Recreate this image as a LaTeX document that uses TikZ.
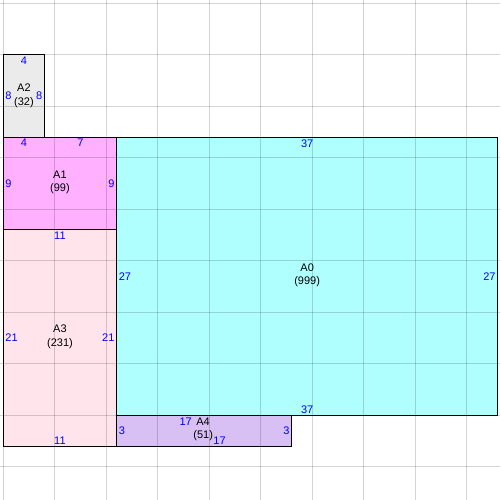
\documentclass[tikz,border=0pt]{standalone}
\usepackage{fontspec}
\setmainfont{Liberation Sans}
\definecolor{cellA0}{RGB}{176,255,255}
\definecolor{cellA1}{RGB}{255,176,255}
\definecolor{cellA2}{RGB}{235,235,235}
\definecolor{cellA3}{RGB}{255,228,236}
\definecolor{cellA4}{RGB}{216,192,245}
\begin{document}
\begin{tikzpicture}[x=10.3pt, y={(0pt,-10.3pt)},
    blk/.style={draw=black, line width=0.9pt},
    gridline/.style={draw=black, opacity=0.17, line width=1pt},
    len/.style={text=blue, inner sep=2pt, font=\fontsize{11}{12}\selectfont},
    tag/.style={align=center, inner sep=0pt, font=\fontsize{11}{13.5}\selectfont}]
    \useasboundingbox (-0.32,-0.32) rectangle (48.22,48.22);

    % Blocks
    \draw[blk, fill=cellA2] (0,5) rectangle (4,13);
    \draw[blk, fill=cellA1] (0,13) rectangle (11,22);
    \draw[blk, fill=cellA3] (0,22) rectangle (11,43);
    \draw[blk, fill=cellA0] (11,13) rectangle (48,40);
    \draw[blk, fill=cellA4] (11,40) rectangle (28,43);

    % Grid (every 5 units)
    \foreach \g in {0,5,...,45} {
        \draw[gridline] (\g,-0.32) -- (\g,48.22);
        \draw[gridline] (-0.32,\g) -- (48.22,\g);
    }

    % A2
    \node[tag] (a2name) at (2,9) {A2\\(32)};
    \node[len, anchor=north] (a2top) at (2,5) {4};
    \node[len, anchor=west] (a2left) at (0,9) {8};
    \node[len, anchor=east] (a2right) at (4,9) {8};

    % A1
    \node[tag] (a1name) at (5.5,17.4) {A1\\(99)};
    \node[len, anchor=north] (a1topa) at (2,13) {4};
    \node[len, anchor=north] (a1topb) at (7.5,13) {7};
    \node[len, anchor=west] (a1left) at (0,17.5) {9};
    \node[len, anchor=east] (a1right) at (11,17.5) {9};

    % A3
    \node[tag] (a3name) at (5.5,32.4) {A3\\(231)};
    \node[len, anchor=north] (a3top) at (5.5,22) {11};
    \node[len, anchor=south] (a3bottom) at (5.5,43) {11};
    \node[len, anchor=west] (a3left) at (0,32.5) {21};
    \node[len, anchor=east] (a3right) at (11,32.5) {21};

    % A0
    \node[tag] (a0name) at (29.5,26.4) {A0\\(999)};
    \node[len, anchor=north] (a0top) at (29.5,13) {37};
    \node[len, anchor=south] (a0bottom) at (29.5,40) {37};
    \node[len, anchor=west] (a0left) at (11,26.5) {27};
    \node[len, anchor=east] (a0right) at (48,26.5) {27};

    % A4
    \node[tag] (a4name) at (19.4,41.35) {A4\\(51)};
    \node[len, anchor=north] (a4top) at (17.7,40) {17};
    \node[len, anchor=south] (a4bottom) at (21,43) {17};
    \node[len, anchor=west] (a4left) at (11,41.5) {3};
    \node[len, anchor=east] (a4right) at (28,41.5) {3};
\end{tikzpicture}
\end{document}
